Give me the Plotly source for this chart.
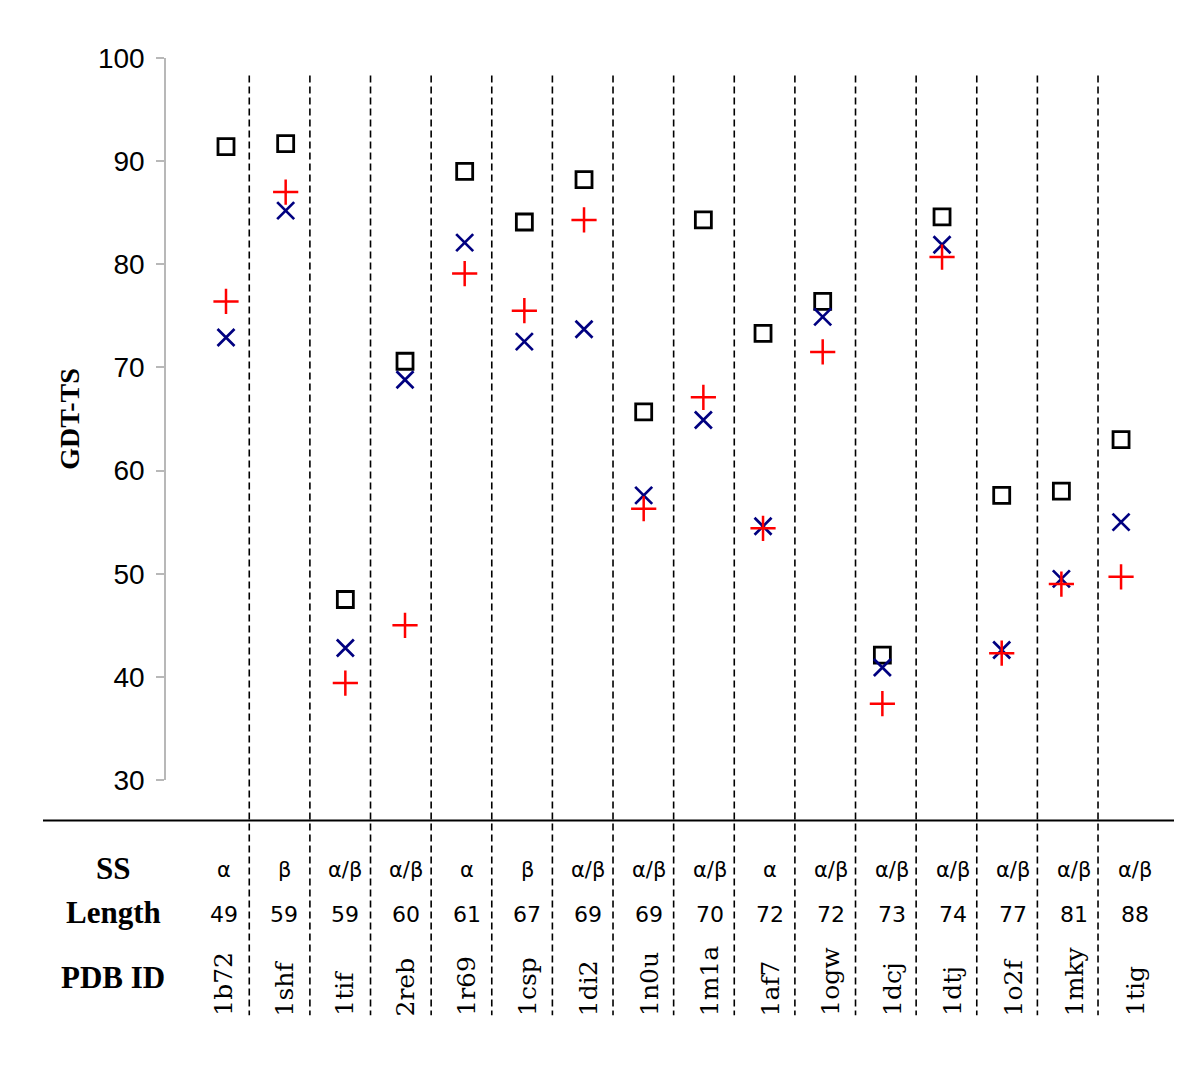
import plotly.graph_objects as go

# ---- data ----
pdb_ids = ["1b72", "1shf", "1tif", "2reb", "1r69", "1csp", "1di2", "1n0u",
           "1m1a", "1af7", "1ogw", "1dcj", "1dtj", "1o2f", "1mky", "1tig"]
ss = ["α", "β", "α/β", "α/β", "α", "β", "α/β", "α/β",
      "α/β", "α", "α/β", "α/β", "α/β", "α/β", "α/β", "α/β"]
lengths = [49, 59, 59, 60, 61, 67, 69, 69, 70, 72, 72, 73, 74, 77, 81, 88]

gdt_square = [91.4, 91.7, 47.5, 70.6, 89.0, 84.1, 88.2, 65.7,
              84.3, 73.3, 76.4, 42.1, 84.6, 57.6, 58.0, 63.0]
gdt_cross = [72.9, 85.2, 42.8, 68.8, 82.1, 72.5, 73.7, 57.6,
             64.9, 54.6, 74.9, 40.9, 81.9, 42.6, 49.5, 55.0]
gdt_plus = [76.4, 87.0, 39.4, 45.0, 79.1, 75.5, 84.3, 56.3,
            67.1, 54.4, 71.5, 37.4, 80.7, 42.3, 49.0, 49.7]

y_ticks = [30, 40, 50, 60, 70, 80, 90, 100]
row_labels = ["SS", "Length", "PDB ID"]

# ---- layout geometry (page coordinates; the page body has an 8px margin) ----
OFF = 8
W, H = 1200 - 2 * OFF, 1067 - 2 * OFF
L, R = 166 - OFF, 1174 - OFF
T, B = 57.5 - OFF, 780.5 - OFF
PLOT_H = B - T
px_per_unit = 59.67
x_left = -(226 - OFF - L) / px_per_unit
x_right = x_left + (R - L) / px_per_unit


def py2paper(py):
    return (B - (py - OFF)) / PLOT_H


def px2paper(px):
    return ((px - OFF) - L) / (R - L)


idx = list(range(len(pdb_ids)))

fig = go.Figure()
fig.add_trace(go.Scatter(
    x=idx, y=gdt_square, mode="markers", name="square",
    marker=dict(symbol="square-open", size=16, color="black",
                line=dict(width=2.8, color="black"))))
fig.add_trace(go.Scatter(
    x=idx, y=gdt_cross, mode="markers", name="cross",
    marker=dict(symbol="x-thin-open", size=17, color="#000080",
                line=dict(width=2.7, color="#000080"))))
fig.add_trace(go.Scatter(
    x=idx, y=gdt_plus, mode="markers", name="plus",
    marker=dict(symbol="cross-thin-open", size=18, color="#ff0000",
                line=dict(width=2.5, color="#ff0000"))))

shapes = []
# vertical dashed separators between proteins
for k in range(len(pdb_ids) - 1):
    xs = 0.39 + 1.016 * k
    shapes.append(dict(type="line", xref="x", yref="paper",
                       x0=xs, x1=xs, y0=py2paper(75), y1=py2paper(1016),
                       line=dict(color="black", width=1.6, dash="7px,4px")))
# horizontal table rule
shapes.append(dict(type="line", xref="paper", yref="paper",
                   x0=px2paper(43), x1=px2paper(1174),
                   y0=py2paper(821), y1=py2paper(821),
                   line=dict(color="black", width=2)))

annotations = []
row_y = [869, 913, 978]
for lab, ry in zip(row_labels, row_y):
    annotations.append(dict(
        text="<b>%s</b>" % lab, xref="paper", yref="paper",
        x=px2paper(113), y=py2paper(ry), xanchor="center", yanchor="middle",
        showarrow=False,
        font=dict(family="Liberation Serif", size=31, color="black")))

for i in idx:
    tx = -0.04 + 1.018 * i
    annotations.append(dict(
        text=ss[i], xref="x", yref="paper", x=tx, y=py2paper(871),
        xanchor="center", yanchor="middle", showarrow=False,
        font=dict(family="DejaVu Sans", size=21, color="black")))
    annotations.append(dict(
        text=str(lengths[i]), xref="x", yref="paper", x=tx, y=py2paper(915),
        xanchor="center", yanchor="middle", showarrow=False,
        font=dict(family="DejaVu Sans", size=22, color="black")))
    annotations.append(dict(
        text=pdb_ids[i], xref="x", yref="paper", x=tx, y=py2paper(1019),
        xanchor="center", yanchor="bottom", textangle=-90, showarrow=False,
        font=dict(family="DejaVu Serif", size=25, color="black")))

fig.update_layout(
    template="none",
    width=W, height=H,
    margin=dict(l=L, r=W - R, t=T, b=H - B, pad=0),
    paper_bgcolor="white", plot_bgcolor="white",
    showlegend=False,
    shapes=shapes,
    annotations=annotations,
    xaxis=dict(range=[x_left, x_right], visible=False, showgrid=False,
               zeroline=False, automargin=False),
    yaxis=dict(range=[30, 100], tickvals=y_ticks, ticks="outside",
               ticklen=8, tickwidth=1.5, tickcolor="#b8b8b8",
               showline=True, linecolor="#b8b8b8", linewidth=1.5,
               showgrid=False, zeroline=False, automargin=False,
               ticklabelstandoff=6,
               tickfont=dict(family="Liberation Sans", size=28, color="black"),
               title=dict(text="<b>GDT-TS</b>", standoff=10,
                          font=dict(family="Liberation Serif", size=28,
                                    color="black"))),
)

fig.write_html("out.html", config={"displayModeBar": False})
